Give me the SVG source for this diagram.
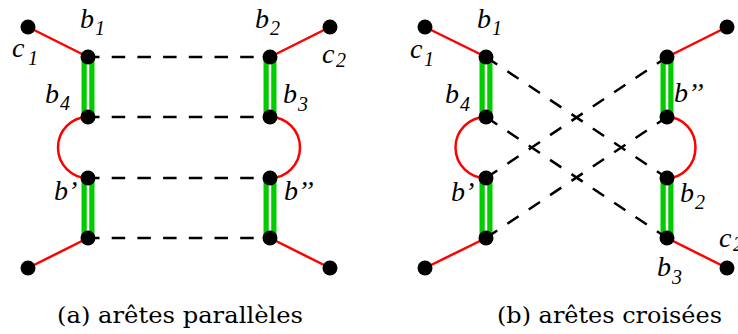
<svg xmlns="http://www.w3.org/2000/svg" width="738" height="334" viewBox="0 0 738 334">
<style>
.n{fill:#000}
.red{stroke:#ff0000;stroke-width:2.5;fill:none}
.green{stroke:#00cc00;stroke-width:13}
.gap{stroke:#fff;stroke-width:2.5}
.dash{stroke:#000;stroke-width:2.5;stroke-dasharray:13.5 12.2;fill:none}
.lbl{font-family:"Liberation Serif","Times New Roman",serif;font-style:italic;font-size:28px;fill:#000}
.sub{font-size:20px}
.cap{font-family:"DejaVu Serif",serif;font-size:23px;fill:#000}
</style>
<rect width="738" height="334" fill="#fff"/>
<g id="connectors">
  <line class="red" x1="28" y1="27" x2="88" y2="57"/>
  <line class="red" x1="330" y1="27" x2="270" y2="57"/>
  <line class="red" x1="28" y1="268" x2="88" y2="238"/>
  <line class="red" x1="330" y1="268" x2="270" y2="238"/>
  <path class="red" d="M88,117 A30,30.5 0 0 0 88,178"/>
  <path class="red" d="M270,117 A30,30.5 0 0 1 270,178"/>
  <line class="green" x1="88" y1="57" x2="88" y2="117"/><line class="gap" x1="88" y1="57" x2="88" y2="117"/>
  <line class="green" x1="270" y1="57" x2="270" y2="117"/><line class="gap" x1="270" y1="57" x2="270" y2="117"/>
  <line class="green" x1="88" y1="178" x2="88" y2="238"/><line class="gap" x1="88" y1="178" x2="88" y2="238"/>
  <line class="green" x1="270" y1="178" x2="270" y2="238"/><line class="gap" x1="270" y1="178" x2="270" y2="238"/>
  <line class="dash" x1="86" y1="57" x2="270" y2="57"/>
  <line class="dash" x1="86" y1="117" x2="270" y2="117"/>
  <line class="dash" x1="86" y1="178" x2="270" y2="178"/>
  <line class="dash" x1="86" y1="238" x2="270" y2="238"/>
  <line class="red" x1="425" y1="27" x2="486" y2="57"/>
  <line class="red" x1="727" y1="27" x2="667" y2="57"/>
  <line class="red" x1="425" y1="268" x2="486" y2="238"/>
  <line class="red" x1="727" y1="268" x2="667" y2="238"/>
  <path class="red" d="M486,117 A30.5,30.5 0 0 0 486,178"/>
  <path class="red" d="M667,117 A28.5,30.5 0 0 1 667,178"/>
  <line class="green" x1="486" y1="57" x2="486" y2="117"/><line class="gap" x1="486" y1="57" x2="486" y2="117"/>
  <line class="green" x1="667" y1="57" x2="667" y2="117"/><line class="gap" x1="667" y1="57" x2="667" y2="117"/>
  <line class="green" x1="486" y1="178" x2="486" y2="238"/><line class="gap" x1="486" y1="178" x2="486" y2="238"/>
  <line class="green" x1="667" y1="178" x2="667" y2="238"/><line class="gap" x1="667" y1="178" x2="667" y2="238"/>
  <line class="dash" x1="486" y1="57" x2="667" y2="178"/>
  <line class="dash" x1="486" y1="117" x2="667" y2="238"/>
  <line class="dash" x1="486" y1="178" x2="667" y2="57"/>
  <line class="dash" x1="486" y1="238" x2="667" y2="117"/>
</g>
<g id="a-c1"><circle class="n" cx="28" cy="27" r="7.5"/><text class="lbl" x="12" y="57">c</text><text class="lbl sub" x="28" y="65">1</text></g>
<g id="a-b1"><circle class="n" cx="88" cy="57" r="7.5"/><text class="lbl" x="80" y="28">b</text><text class="lbl sub" x="95" y="35">1</text></g>
<g id="a-b2"><circle class="n" cx="270" cy="57" r="7.5"/><text class="lbl" x="255" y="28">b</text><text class="lbl sub" x="270" y="35">2</text></g>
<g id="a-c2"><circle class="n" cx="330" cy="27" r="7.5"/><text class="lbl" x="322" y="63">c</text><text class="lbl sub" x="336" y="67">2</text></g>
<g id="a-b4"><circle class="n" cx="88" cy="117" r="7.5"/><text class="lbl" x="45" y="103">b</text><text class="lbl sub" x="60" y="110">4</text></g>
<g id="a-b3"><circle class="n" cx="270" cy="117" r="7.5"/><text class="lbl" x="283" y="103">b</text><text class="lbl sub" x="298" y="111">3</text></g>
<g id="a-bp"><circle class="n" cx="88" cy="178" r="7.5"/><text class="lbl" x="54" y="200">b’</text></g>
<g id="a-bpp"><circle class="n" cx="270" cy="178" r="7.5"/><text class="lbl" x="284" y="200">b’’</text></g>
<g id="a-n5"><circle class="n" cx="88" cy="238" r="7.5"/></g>
<g id="a-n6"><circle class="n" cx="270" cy="238" r="7.5"/></g>
<g id="a-l5"><circle class="n" cx="28" cy="268" r="7.5"/></g>
<g id="a-l6"><circle class="n" cx="330" cy="268" r="7.5"/></g>
<g id="b-c1"><circle class="n" cx="425" cy="27" r="7.5"/><text class="lbl" x="410" y="58">c</text><text class="lbl sub" x="424" y="66">1</text></g>
<g id="b-b1"><circle class="n" cx="486" cy="57" r="7.5"/><text class="lbl" x="477" y="28">b</text><text class="lbl sub" x="492" y="35">1</text></g>
<g id="b-b4"><circle class="n" cx="486" cy="117" r="7.5"/><text class="lbl" x="445" y="103">b</text><text class="lbl sub" x="460" y="111">4</text></g>
<g id="b-bp"><circle class="n" cx="486" cy="178" r="7.5"/><text class="lbl" x="451" y="201">b’</text></g>
<g id="b-n5"><circle class="n" cx="486" cy="238" r="7.5"/></g>
<g id="b-l5"><circle class="n" cx="425" cy="268" r="7.5"/></g>
<g id="b-l2"><circle class="n" cx="727" cy="27" r="7.5"/></g>
<g id="b-n2"><circle class="n" cx="667" cy="57" r="7.5"/></g>
<g id="b-bpp"><circle class="n" cx="667" cy="117" r="7.5"/><text class="lbl" x="674" y="102">b’’</text></g>
<g id="b-b2"><circle class="n" cx="667" cy="178" r="7.5"/><text class="lbl" x="680" y="202">b</text><text class="lbl sub" x="695" y="209">2</text></g>
<g id="b-b3"><circle class="n" cx="667" cy="238" r="7.5"/><text class="lbl" x="657" y="276">b</text><text class="lbl sub" x="672" y="284">3</text></g>
<g id="b-c2"><circle class="n" cx="727" cy="268" r="7.5"/><text class="lbl" x="719" y="247">c</text><text class="lbl sub" x="733" y="251">2</text></g>
<text class="cap" x="57" y="323" textLength="246" lengthAdjust="spacingAndGlyphs">(a) arêtes parallèles</text>
<text class="cap" x="497" y="323" textLength="225" lengthAdjust="spacingAndGlyphs">(b) arêtes croisées</text>
</svg>
